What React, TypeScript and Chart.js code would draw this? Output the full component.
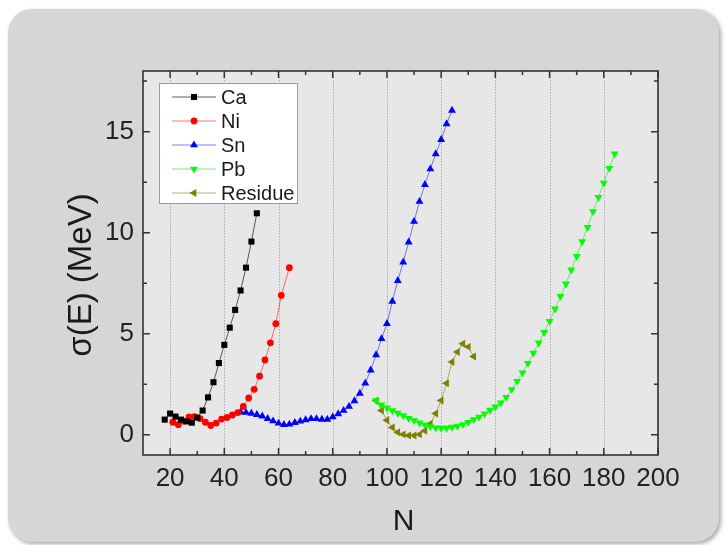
import React, { useEffect, useRef } from 'react';
import { Chart, registerables } from 'chart.js';

Chart.register(...registerables);

// ---------- data ----------
const caN = [18, 20, 22, 24, 26, 28, 30, 32, 34, 36, 38, 40, 42, 44, 46, 48, 50, 52];
const caE = [0.75, 1.05, 0.9, 0.75, 0.66, 0.6, 0.85, 1.2, 1.85, 2.6, 3.55, 4.45, 5.3, 6.18, 7.14, 8.27, 9.56, 10.96];

const niN = [21, 23, 25, 27, 29, 31, 33, 35, 37, 39, 41, 43, 45, 47, 49, 51, 53, 55, 57, 59, 61, 64];
const niE = [0.62, 0.5, 0.68, 0.88, 0.9, 0.8, 0.62, 0.46, 0.58, 0.78, 0.86, 0.98, 1.1, 1.4, 1.82, 2.25, 2.9, 3.7, 4.55, 5.5, 6.9, 8.27];

const snN = [46, 48, 50, 52, 54, 56, 58, 60, 62, 64, 66, 68, 70, 72, 74, 76, 78, 80, 82, 84, 86, 88, 90, 92, 94, 96, 98, 100, 102, 104, 106, 108, 110, 112, 114, 116, 118, 120, 122, 124];
const snE = [1.12, 1.1, 1.06, 1.0, 0.92, 0.8, 0.68, 0.57, 0.5, 0.52, 0.6, 0.67, 0.74, 0.79, 0.79, 0.76, 0.76, 0.88, 1.03, 1.2, 1.4, 1.68, 2.05, 2.55, 3.2, 3.95, 4.75, 5.5, 6.6, 7.63, 8.54, 9.53, 10.55, 11.54, 12.38, 13.15, 13.9, 14.6, 15.38, 16.05];

const pbN = [96, 98, 100, 102, 104, 106, 108, 110, 112, 114, 116, 118, 120, 122, 124, 126, 128, 130, 132, 134, 136, 138, 140, 142, 144, 146, 148, 150, 152, 154, 156, 158, 160, 162, 164, 166, 168, 170, 172, 174, 176, 178, 180, 182, 184];
const pbE = [1.7, 1.48, 1.33, 1.2, 1.07, 0.95, 0.82, 0.71, 0.59, 0.49, 0.41, 0.35, 0.33, 0.33, 0.38, 0.43, 0.51, 0.62, 0.76, 0.88, 1.04, 1.22, 1.38, 1.58, 1.86, 2.24, 2.65, 3.07, 3.54, 4.04, 4.55, 5.07, 5.62, 6.23, 6.85, 7.47, 8.16, 8.83, 9.56, 10.27, 11.04, 11.75, 12.46, 13.19, 13.9];

const resN = [96, 98, 100, 102, 104, 106, 108, 110, 112, 114, 116, 118, 120, 122, 124, 126, 128, 130, 132];
const resE = [1.7, 1.2, 0.72, 0.36, 0.13, 0.02, -0.03, -0.03, 0.02, 0.2, 0.55, 1.05, 1.7, 2.55, 3.6, 4.1, 4.5, 4.35, 3.87];

const seriesNames = ['Ca', 'Ni', 'Sn', 'Pb', 'Residue'];

// ---------- ticks ----------
const xMajor = [20, 40, 60, 80, 100, 120, 140, 160, 180, 200];
const xMinor = [30, 50, 70, 90, 110, 130, 150, 170, 190];
const yMajor = [0, 5, 10, 15];
const yMinor = [2.5, 7.5, 12.5, 17.5];

const FONT = '"Liberation Sans", Arial, Helvetica, sans-serif';

type Marker = { style: string; rot: number; r: number };

function drawMarker(ctx: CanvasRenderingContext2D, x: number, y: number, m: Marker, color: string) {
  ctx.save();
  ctx.fillStyle = color;
  ctx.beginPath();
  if (m.style === 'rect') {
    const s = m.r * Math.SQRT1_2;
    ctx.rect(x - s, y - s, 2 * s, 2 * s);
  } else if (m.style === 'circle') {
    ctx.arc(x, y, m.r, 0, Math.PI * 2);
  } else {
    let rad = (m.rot * Math.PI) / 180;
    ctx.moveTo(x + Math.sin(rad) * m.r, y - Math.cos(rad) * m.r);
    rad += (2 * Math.PI) / 3;
    ctx.lineTo(x + Math.sin(rad) * m.r, y - Math.cos(rad) * m.r);
    rad += (2 * Math.PI) / 3;
    ctx.lineTo(x + Math.sin(rad) * m.r, y - Math.cos(rad) * m.r);
    ctx.closePath();
  }
  ctx.fill();
  ctx.restore();
}

const markers: Marker[] = [
  { style: 'rect', rot: 0, r: 4.3 },
  { style: 'circle', rot: 0, r: 3.4 },
  { style: 'triangle', rot: 0, r: 4.6 },
  { style: 'triangle', rot: 180, r: 4.6 },
  { style: 'triangle', rot: 270, r: 4.6 },
];
const pointColors = ['#000000', '#ff0000', '#0000ff', '#00ff00', '#808000'];
const lineColors = ['rgba(40,40,40,0.75)', 'rgba(255,0,0,0.55)', 'rgba(0,0,255,0.5)', 'rgba(0,230,0,0.55)', 'rgba(128,128,0,0.6)'];

const framePlugin = {
  id: 'framePlugin',
  beforeDatasetsDraw(chart: any) {
    const { ctx, chartArea: a, scales } = chart;
    ctx.save();
    ctx.fillStyle = '#e7e7e7';
    ctx.fillRect(a.left, a.top, a.right - a.left, a.bottom - a.top);
    ctx.strokeStyle = '#a8a8a8';
    ctx.lineWidth = 1;
    ctx.setLineDash([1.5, 1.5]);
    xMajor.forEach((v) => {
      const px = Math.round(scales.x.getPixelForValue(v)) + 0.5;
      ctx.beginPath();
      ctx.moveTo(px, a.top);
      ctx.lineTo(px, a.bottom);
      ctx.stroke();
    });
    ctx.restore();
  },
  afterDatasetsDraw(chart: any) {
    const { ctx, chartArea: a, scales } = chart;
    ctx.save();
    // ticks (inward, mirrored)
    ctx.strokeStyle = '#333';
    ctx.lineWidth = 1.5;
    const tickX = (vals: number[], len: number) => {
      vals.forEach((v) => {
        const px = scales.x.getPixelForValue(v);
        ctx.beginPath();
        ctx.moveTo(px, a.bottom);
        ctx.lineTo(px, a.bottom - len);
        ctx.moveTo(px, a.top);
        ctx.lineTo(px, a.top + len);
        ctx.stroke();
      });
    };
    const tickY = (vals: number[], len: number) => {
      vals.forEach((v) => {
        const py = scales.y.getPixelForValue(v);
        ctx.beginPath();
        ctx.moveTo(a.left, py);
        ctx.lineTo(a.left + len, py);
        ctx.moveTo(a.right, py);
        ctx.lineTo(a.right - len, py);
        ctx.stroke();
      });
    };
    tickX(xMajor, 7);
    tickX(xMinor, 4);
    tickY(yMajor, 7);
    tickY(yMinor, 4);
    ctx.lineWidth = 1.6;
    ctx.strokeRect(a.left, a.top, a.right - a.left, a.bottom - a.top);

    // legend
    const lx = 159, ly = 83, lw = 138, lh = 120;
    ctx.fillStyle = '#ffffff';
    ctx.fillRect(lx, ly, lw, lh);
    ctx.strokeStyle = '#9a9a9a';
    ctx.lineWidth = 1;
    ctx.strokeRect(lx + 0.5, ly + 0.5, lw, lh);
    ctx.font = `20px ${FONT}`;
    ctx.textBaseline = 'middle';
    ctx.textAlign = 'left';
    seriesNames.forEach((name, i) => {
      const y = ly + 14 + i * 24;
      ctx.strokeStyle = lineColors[i];
      ctx.lineWidth = 1.2;
      ctx.beginPath();
      ctx.moveTo(172, y);
      ctx.lineTo(216, y);
      ctx.stroke();
      drawMarker(ctx, 194, y, markers[i], pointColors[i]);
      ctx.fillStyle = '#1a1a1a';
      ctx.fillText(name, 221, y + 1);
    });

    // axis titles
    ctx.fillStyle = '#1a1a1a';
    ctx.font = `30px ${FONT}`;
    ctx.textAlign = 'center';
    ctx.textBaseline = 'middle';
    ctx.fillText('N', (a.left + a.right) / 2 + 3, 522);
    ctx.save();
    ctx.font = `33px ${FONT}`;
    ctx.translate(82, 275);
    ctx.rotate(-Math.PI / 2);
    ctx.fillText('σ(E) (MeV)', 0, 0);
    ctx.restore();
    ctx.restore();
  },
};

function makeSet(i: number, ns: number[], es: number[]) {
  return {
    label: seriesNames[i],
    data: ns.map((n, k) => ({ x: n, y: es[k] })),
    showLine: true,
    borderColor: lineColors[i],
    borderWidth: 1,
    backgroundColor: pointColors[i],
    pointBackgroundColor: pointColors[i],
    pointBorderColor: pointColors[i],
    pointBorderWidth: 0,
    pointStyle: markers[i].style,
    pointRotation: markers[i].rot,
    pointRadius: markers[i].r,
    tension: 0,
  };
}

export default function App() {
  const ref = useRef<HTMLCanvasElement>(null);
  useEffect(() => {
    const chart = new Chart(ref.current as HTMLCanvasElement, {
      type: 'scatter',
      data: {
        datasets: [
          makeSet(0, caN, caE),
          makeSet(1, niN, niE),
          makeSet(2, snN, snE),
          makeSet(3, pbN, pbE),
          makeSet(4, resN, resE),
        ] as any,
      },
      options: {
        responsive: false,
        maintainAspectRatio: false,
        animation: false,
        devicePixelRatio: 1,
        layout: { padding: { left: 0, top: 71, right: 67, bottom: 0 } },
        plugins: { legend: { display: false }, tooltip: { enabled: false } },
        scales: {
          x: {
            type: 'linear',
            min: 10,
            max: 200,
            grid: { display: false, drawTicks: false },
            border: { display: false },
            afterBuildTicks: (s: any) => {
              s.ticks = xMajor.map((v) => ({ value: v }));
            },
            afterFit: (s: any) => {
              s.height = 90;
            },
            ticks: {
              padding: 8,
              autoSkip: false,
              maxRotation: 0,
              color: '#222',
              font: { family: FONT, size: 26 },
            },
          },
          y: {
            type: 'linear',
            min: -1,
            max: 18,
            grid: { display: false, drawTicks: false },
            border: { display: false },
            afterBuildTicks: (s: any) => {
              s.ticks = yMajor.map((v) => ({ value: v }));
            },
            afterFit: (s: any) => {
              s.width = 143;
            },
            ticks: {
              padding: 9,
              color: '#222',
              font: { family: FONT, size: 26 },
            },
          },
        },
      } as any,
      plugins: [framePlugin],
    });
    return () => chart.destroy();
  }, []);

  return (
    <div style={{ position: 'absolute', left: 0, top: 0, width: 725, height: 545, background: '#ffffff', overflow: 'hidden' }}>
      <div
        style={{
          position: 'absolute',
          left: 8,
          top: 9,
          width: 711,
          height: 533,
          background: '#d6d6d6',
          borderRadius: 24,
          boxShadow: '2px 2px 4px rgba(0,0,0,0.35)',
        }}
      />
      <canvas ref={ref} width={725} height={545} style={{ position: 'absolute', left: 0, top: 0 }} />
    </div>
  );
}
